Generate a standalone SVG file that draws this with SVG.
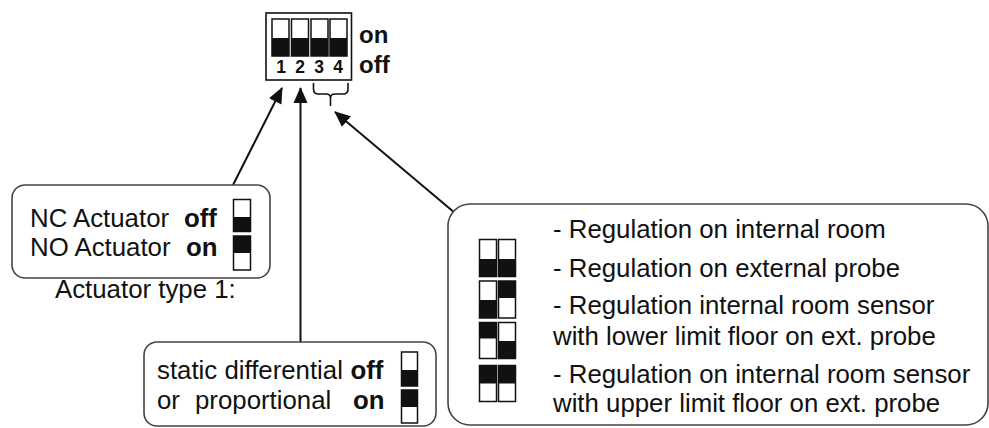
<svg xmlns="http://www.w3.org/2000/svg" width="989" height="428" viewBox="0 0 989 428">
<style>
  text { font-family: "Liberation Sans", Arial, sans-serif; fill: #111; }
  .t { font-size: 25.8px; }
  .b { font-size: 25.8px; font-weight: bold; }
  .box { fill: #fff; stroke: #444; stroke-width: 1.6; }
  .sw { fill: #fff; stroke: #111; stroke-width: 1.5; }
  .blk { fill: #111; }
  .conn { stroke: #111; stroke-width: 2; fill: none; }
</style>
<defs>
  <marker id="ah" viewBox="0 0 16 16" refX="15" refY="8" markerWidth="16" markerHeight="16" markerUnits="userSpaceOnUse" orient="auto">
    <path d="M0,1 L16,8 L0,15 z" fill="#111"/>
  </marker>
</defs>
<rect width="989" height="428" fill="#fff"/>

<g id="dip">
  <rect x="266" y="13" width="85.5" height="67" fill="#fff" stroke="#111" stroke-width="1.6"/>
  <rect class="sw" x="272" y="19" width="17" height="37"/><rect class="blk" x="272" y="38" width="17" height="18"/>
  <rect class="sw" x="291.5" y="19" width="17" height="37"/><rect class="blk" x="291.5" y="38" width="17" height="18"/>
  <rect class="sw" x="311" y="19" width="17" height="37"/><rect class="blk" x="311" y="38" width="17" height="18"/>
  <rect class="sw" x="330" y="19" width="17" height="37"/><rect class="blk" x="330" y="38" width="17" height="18"/>
  <g style="font-size:17.5px;font-weight:bold" text-anchor="middle">
    <text x="281" y="73">1</text>
    <text x="300" y="73">2</text>
    <text x="319" y="73">3</text>
    <text x="338" y="73">4</text>
  </g>
  <text x="359" y="43" style="font-size:24px;font-weight:bold">on</text>
  <text x="359" y="73" style="font-size:24px;font-weight:bold">off</text>
  <path d="M313.5,83 L313.5,89 Q313.5,94 318.5,94 L326,94 Q330.5,94 330.5,98 L330.5,106 M330.5,98 Q330.5,94 335,94 L343,94 Q348,94 348,89 L348,83" fill="none" stroke="#111" stroke-width="1.6"/>
</g>

<g id="connectors">
  <line class="conn" x1="233" y1="185" x2="282" y2="88" marker-end="url(#ah)"/>
  <line class="conn" x1="300.5" y1="342" x2="300.5" y2="88" marker-end="url(#ah)"/>
  <line class="conn" x1="455" y1="213" x2="335" y2="112" marker-end="url(#ah)"/>
</g>

<g id="actuator">
  <rect class="box" x="12" y="185" width="258" height="93" rx="13"/>
  <text class="t" x="30" y="227">NC Actuator</text>
  <text class="b" x="184" y="227">off</text>
  <text class="t" x="30" y="256">NO Actuator</text>
  <text class="b" x="186" y="256">on</text>
  <rect class="sw" x="233.5" y="199.5" width="17" height="32"/><rect class="blk" x="233.5" y="217" width="17" height="14.5"/>
  <rect class="sw" x="233.5" y="236" width="17" height="34"/><rect class="blk" x="233.5" y="236" width="17" height="17"/>
  <text class="t" x="55" y="298">Actuator type 1:</text>
</g>

<g id="differential">
  <rect class="box" x="144" y="342" width="292" height="84" rx="13"/>
  <text class="t" x="157" y="379">static differential</text>
  <text class="b" x="350.5" y="379">off</text>
  <text class="t" x="157" y="409">or</text>
  <text class="t" x="195" y="409">proportional</text>
  <text class="b" x="353" y="409">on</text>
  <rect class="sw" x="401.5" y="352" width="16" height="34"/><rect class="blk" x="401.5" y="370" width="16" height="16"/>
  <rect class="sw" x="401.5" y="390" width="16" height="33"/><rect class="blk" x="401.5" y="390" width="16" height="17"/>
</g>

<g id="regulation">
  <rect class="box" x="448" y="204" width="540" height="221" rx="22"/>
  <rect class="sw" x="479.5" y="239.5" width="17" height="37"/><rect class="blk" x="479.5" y="259" width="17" height="17.5"/>
  <rect class="sw" x="498.5" y="239.5" width="17" height="37"/><rect class="blk" x="498.5" y="259" width="17" height="17.5"/>
  <rect class="sw" x="479.5" y="281" width="17" height="37"/><rect class="blk" x="479.5" y="300" width="17" height="18"/>
  <rect class="sw" x="498.5" y="281" width="17" height="37"/><rect class="blk" x="498.5" y="281" width="17" height="17"/>
  <rect class="sw" x="479.5" y="322.5" width="17" height="36"/><rect class="blk" x="479.5" y="322.5" width="17" height="16"/>
  <rect class="sw" x="498.5" y="322.5" width="17" height="36"/><rect class="blk" x="498.5" y="341" width="17" height="17.5"/>
  <rect class="sw" x="479.5" y="365.5" width="17" height="36"/><rect class="blk" x="479.5" y="365.5" width="17" height="18"/>
  <rect class="sw" x="498.5" y="365.5" width="17" height="36"/><rect class="blk" x="498.5" y="365.5" width="17" height="18"/>
  <text class="t" x="553" y="238">- Regulation on internal room</text>
  <text class="t" x="553" y="277">- Regulation on external probe</text>
  <text class="t" x="553" y="314">- Regulation internal room sensor</text>
  <text class="t" x="553" y="345">with lower limit floor on ext. probe</text>
  <text class="t" x="553" y="383">- Regulation on internal room sensor</text>
  <text class="t" x="553" y="412">with upper limit floor on ext. probe</text>
</g>
</svg>
